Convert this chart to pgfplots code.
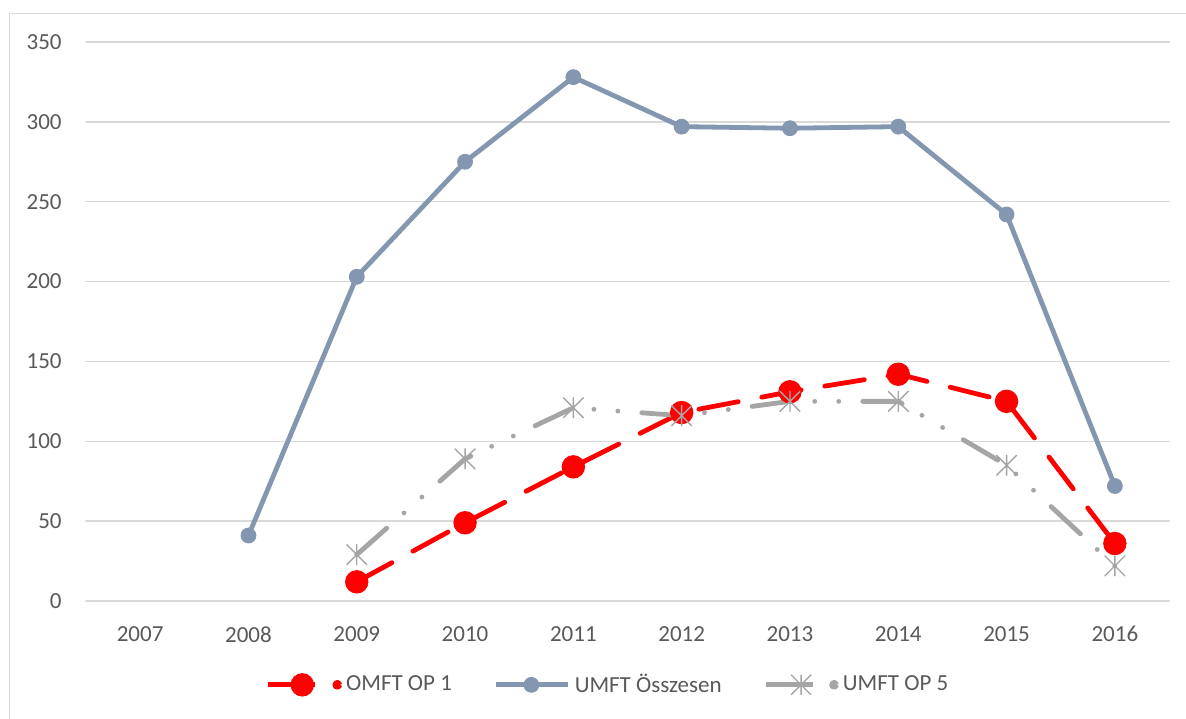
\documentclass[border=0pt]{standalone}
\usepackage{fontspec}
\setmainfont{Carlito}
\usepackage{pgfplots}
\pgfplotsset{compat=1.18}
\definecolor{umftblue}{HTML}{8497B0}
\definecolor{opgray}{HTML}{A5A5A5}
\definecolor{gridgray}{HTML}{D9D9D9}
\definecolor{txt}{HTML}{595959}
\pgfdeclareplotmark{xstar}{%
  \pgfpathmoveto{\pgfqpoint{0pt}{\pgfplotmarksize}}%
  \pgfpathlineto{\pgfqpoint{0pt}{-\pgfplotmarksize}}%
  \pgfpathmoveto{\pgfqpoint{-\pgfplotmarksize}{-\pgfplotmarksize}}%
  \pgfpathlineto{\pgfqpoint{\pgfplotmarksize}{\pgfplotmarksize}}%
  \pgfpathmoveto{\pgfqpoint{-\pgfplotmarksize}{\pgfplotmarksize}}%
  \pgfpathlineto{\pgfqpoint{\pgfplotmarksize}{-\pgfplotmarksize}}%
  \pgfusepathqstroke}
\begin{document}
\begin{tikzpicture}
\path[use as bounding box] (0pt,0pt) rectangle (593pt,359pt);
\draw[gridgray, line width=0.75pt] (4.75pt,-5pt) -- (4.75pt,352.25pt) -- (600pt,352.25pt);
\begin{axis}[
  at={(43pt,58.5pt)}, anchor=south west,
  scale only axis, width=541.5pt, height=279.5pt,
  xmin=2006.5, xmax=2016.5, ymin=0, ymax=350,
  xtick={2007,2008,2009,2010,2011,2012,2013,2014,2015,2016},
  xticklabels={2007,2008,2009,2010,2011,2012,2013,2014,2015,2016},
  ytick={0,50,100,150,200,250,300,350},
  axis line style={draw=none},
  ymajorgrids, grid style={gridgray, line width=0.75pt},
  major tick length=0pt,
  /pgf/number format/assume math mode=true,
  tick label style={font=\fontsize{11.5}{13}\selectfont, text=txt, inner sep=0pt},
  yticklabel style={anchor=east, xshift=-12pt},
  xticklabel style={anchor=north, yshift=-12.5pt},
  legend style={at={(0.483,-0.150)}, anchor=center, draw=none, fill=none,
    font=\fontsize{11.5}{13}\selectfont, text=txt,
    /tikz/every even column/.append style={column sep=19pt}},
  legend columns=3,
  legend image code/.code={\draw[mark repeat=2,mark phase=2] plot coordinates {(0pt,0pt) (17.5pt,0pt) (36pt,0pt)};},
  line cap=round, line join=round,
]
\addplot[red, line width=2.4pt, dash pattern=on 20pt off 12pt,
  mark=*, mark size=5.6pt, mark options={solid, fill=red, draw=red, line width=0.5pt},
  legend image code/.code={%
    \draw[solid,mark repeat=2,mark phase=2] plot coordinates {(0pt,0pt) (17pt,0pt) (23.5pt,0pt)};
    \fill[red] (34.5pt,0pt) circle (1.2pt);}]
  coordinates {(2009,12) (2010,49) (2011,84) (2012,118) (2013,131) (2014,142) (2015,125) (2016,36)};
\addlegendentry{OMFT OP 1}
\addplot[umftblue, line width=2.4pt,
  mark=*, mark size=3.7pt, mark options={solid, fill=umftblue, draw=umftblue, line width=0.5pt}]
  coordinates {(2008,41) (2009,203) (2010,275) (2011,328) (2012,297) (2013,296) (2014,297) (2015,242) (2016,72)};
\addlegendentry{UMFT Összesen}
\addplot[opgray, line width=2.4pt, dash pattern=on 20pt off 11.5pt on 0pt off 12pt on 0pt off 12pt,
  mark=xstar, mark size=5pt, mark options={solid, draw=opgray, line width=0.7pt},
  legend image code/.code={%
    \draw[solid,mark repeat=2,mark phase=2] plot coordinates {(0pt,0pt) (17.5pt,0pt) (23.5pt,0pt)};
    \fill[opgray] (34pt,0pt) circle (1.2pt);}]
  coordinates {(2009,29) (2010,89) (2011,121) (2012,116) (2013,125) (2014,125) (2015,85) (2016,22)};
\addlegendentry{UMFT OP 5}
\end{axis}
\end{tikzpicture}
\end{document}
